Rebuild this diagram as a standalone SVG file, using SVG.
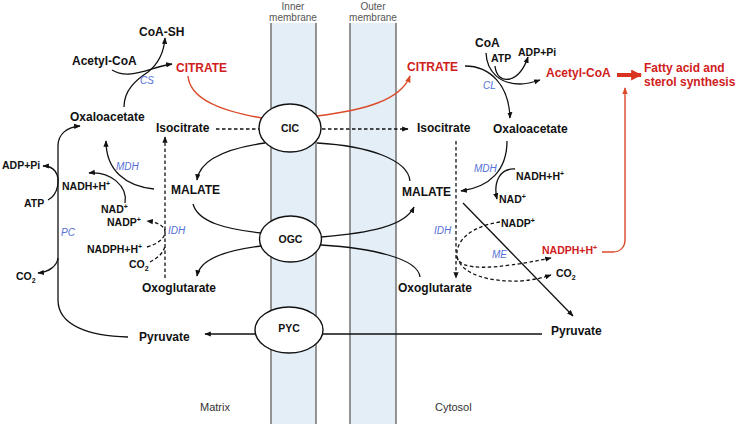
<svg xmlns="http://www.w3.org/2000/svg" width="739" height="424" viewBox="0 0 739 424">
<style>
text{font-family:"Liberation Sans",Arial,sans-serif}
.m{font-weight:bold;font-size:12px;fill:#111}
.c{font-weight:bold;font-size:10.5px;fill:#111}
.e{font-style:italic;font-size:10px;fill:#5470d8}
.r{fill:#d0201c}
.mb{font-size:10px;fill:#555;text-anchor:middle}
.lb{font-size:11px;fill:#333}
.n{font-weight:bold;font-size:10.5px;fill:#111;text-anchor:middle}
.l{fill:none;stroke:#111;stroke-width:1.3}
.d{stroke-dasharray:3.5,2.5}
.rl{fill:none;stroke:#dc4a2a;stroke-width:1.4}
.ov{fill:#fff;stroke:#111;stroke-width:1.4}
.mem{fill:#e3eef7;stroke:none}
.ml{stroke:#7a7a7a;stroke-width:1.6}
</style>
<defs>
<marker id="a" viewBox="0 0 10 10" refX="9" refY="5" markerWidth="6.5" markerHeight="6.5" markerUnits="userSpaceOnUse" orient="auto"><path d="M0,1 L10,5 L0,9 z" fill="#111"/></marker>
<marker id="ar" viewBox="0 0 10 10" refX="9" refY="5" markerWidth="7" markerHeight="7" markerUnits="userSpaceOnUse" orient="auto"><path d="M0,1 L10,5 L0,9 z" fill="#dc4a2a"/></marker>
<marker id="at" viewBox="0 0 10 10" refX="9" refY="5" markerWidth="11" markerHeight="11" markerUnits="userSpaceOnUse" orient="auto"><path d="M0,0 L10,5 L0,10 z" fill="#d9321e"/></marker>
</defs>

<g id="membranes">
<rect class="mem" x="271" y="23" width="45" height="401"/>
<line class="ml" x1="271" y1="23" x2="271" y2="424"/>
<line class="ml" x1="316" y1="23" x2="316" y2="424"/>
<rect class="mem" x="350" y="23" width="46" height="401"/>
<line class="ml" x1="350" y1="23" x2="350" y2="424"/>
<line class="ml" x1="396" y1="23" x2="396" y2="424"/>
<text class="mb" x="293" y="10">Inner</text>
<text class="mb" x="293" y="21">membrane</text>
<text class="mb" x="373" y="10">Outer</text>
<text class="mb" x="373" y="21">membrane</text>
<text class="lb" x="200" y="411">Matrix</text>
<text class="lb" x="435" y="411">Cytosol</text>
</g>

<g id="connectors">
<!-- left CS -->
<path class="l" d="M124,107 C124,90 136,80 148,72 C158,64 164,52 165,38" marker-end="url(#a)"/>
<path class="l" d="M112,70 C130,81 150,67 172,64" marker-end="url(#a)"/>
<!-- citrate transport -->
<path class="rl" d="M188,76 C190,99 220,111 262,118"/>
<path class="rl" d="M317,116 C365,110 401,100 410,76" marker-end="url(#ar)"/>
<!-- isocitrate dashed -->
<path class="l d" d="M216,129 L259,129"/>
<path class="l d" d="M322,129 L408,129" marker-end="url(#a)"/>
<!-- CIC malate -->
<path class="l" d="M265,143 C230,148 200,158 197,180" marker-end="url(#a)"/>
<path class="l" d="M317,143 C370,146 408,160 410,181"/>
<!-- OGC -->
<path class="l" d="M193,204 C198,222 225,229 261,233"/>
<path class="l" d="M321,237 C370,233 405,226 414,207" marker-end="url(#a)"/>
<path class="l" d="M261,246 C228,250 200,258 197,276" marker-end="url(#a)"/>
<path class="l" d="M321,245 C370,248 418,258 420,277"/>
<!-- PYC -->
<path class="l" d="M542,334 L205,334" marker-end="url(#a)"/>
<!-- PC loop -->
<path class="l" d="M128,337 C90,336 58,326 58,300 L58,146 C58,134 67,127 80,126" marker-end="url(#a)"/>
<path class="l" d="M48,200 C58,195 61,179 55,171 C52,167 48,166 43,166" marker-end="url(#a)"/>
<path class="l" d="M58,258 C57,266 49,272 38,273" marker-end="url(#a)"/>
<!-- left MDH -->
<path class="l" d="M154,189 C125,186 106,170 106,141" marker-end="url(#a)"/>
<path class="l" d="M125,203 C128,186 110,171 89,173" marker-end="url(#a)"/>
<!-- left IDH -->
<path class="l d" d="M165,278 L165,137" marker-end="url(#a)"/>
<path class="l d" d="M147,247 C158,244 165,238 165,232 C165,226 157,222 147,221" marker-end="url(#a)"/>
<path class="l d" d="M150,262 C158,258 165,252 165,244"/>
<!-- right CL -->
<path class="l" d="M465,66 C490,66 509,85 510,118" marker-end="url(#a)"/>
<path class="l" d="M486,53 C487,72 500,84 520,84 C528,84 534,82 540,80" marker-end="url(#a)"/>
<path class="l" d="M495,66 C496,76 502,81 510,79 C520,76 525,66 528,57" marker-end="url(#a)"/>
<!-- red to fatty acid -->
<path d="M617,75 L641,75" stroke="#d9321e" stroke-width="4" fill="none" marker-end="url(#at)"/>
<path class="rl" d="M602,252 L613,252 C620,252 625,247 625,240 L625,88" marker-end="url(#ar)"/>
<!-- right MDH -->
<path class="l" d="M507,141 C507,170 490,187 461,191" marker-end="url(#a)"/>
<path class="l" d="M515,169 C500,168 493,182 497,199" marker-end="url(#a)"/>
<!-- right IDH -->
<path class="l d" d="M456,141 L456,278" marker-end="url(#a)"/>
<!-- ME -->
<path class="l" d="M463,203 L573,316" marker-end="url(#a)"/>
<path class="l d" d="M500,222 C472,226 455,240 457,257 C460,271 492,270 551,258" marker-end="url(#a)"/>
<path class="l d" d="M457,257 C462,275 490,282 520,281 C535,280 545,277 551,275" marker-end="url(#a)"/>
</g>

<g id="CIC"><ellipse class="ov" cx="290" cy="128" rx="31" ry="24"/><text class="n" x="290" y="132">CIC</text></g>
<g id="OGC"><ellipse class="ov" cx="290.5" cy="239" rx="31" ry="23"/><text class="n" x="290.5" y="243">OGC</text></g>
<g id="PYC"><ellipse class="ov" cx="289" cy="330" rx="34" ry="23"/><text class="n" x="289" y="332">PYC</text></g>

<g id="matrix-nodes">
<g id="m-coash"><text class="m" x="139" y="36">CoA-SH</text></g>
<g id="m-acetylcoa"><text class="m" x="72" y="65">Acetyl-CoA</text></g>
<g id="m-citrate"><text class="m r" x="176" y="72">CITRATE</text></g>
<g id="m-cs"><text class="e" x="140" y="84">CS</text></g>
<g id="m-oaa"><text class="m" x="70" y="121">Oxaloacetate</text></g>
<g id="m-isocitrate"><text class="m" x="156" y="132">Isocitrate</text></g>
<g id="m-adp"><text class="c" x="2" y="169">ADP+Pi</text></g>
<g id="m-nadh"><text class="c" x="62" y="190">NADH+H<tspan font-size="7" dy="-4">+</tspan></text></g>
<g id="m-mdh"><text class="e" x="116" y="169.5">MDH</text></g>
<g id="m-malate"><text class="m" x="171" y="194">MALATE</text></g>
<g id="m-atp"><text class="c" x="24" y="207">ATP</text></g>
<g id="m-nad"><text class="c" x="101" y="213">NAD<tspan font-size="7" dy="-4">+</tspan></text></g>
<g id="m-nadp"><text class="c" x="107" y="226">NADP<tspan font-size="7" dy="-4">+</tspan></text></g>
<g id="m-pc"><text class="e" x="61" y="236">PC</text></g>
<g id="m-idh"><text class="e" x="168" y="234">IDH</text></g>
<g id="m-nadph"><text class="c" x="87" y="253">NADPH+H<tspan font-size="7" dy="-4">+</tspan></text></g>
<g id="m-co2a"><text class="c" x="129" y="268">CO<tspan font-size="7" dy="3">2</tspan></text></g>
<g id="m-co2b"><text class="c" x="16" y="280">CO<tspan font-size="7" dy="3">2</tspan></text></g>
<g id="m-oxo"><text class="m" x="142" y="292">Oxoglutarate</text></g>
<g id="m-pyruvate"><text class="m" x="139" y="341">Pyruvate</text></g>
</g>

<g id="cytosol-nodes">
<g id="c-coa"><text class="m" x="475" y="47">CoA</text></g>
<g id="c-adp"><text class="c" x="518" y="55.5">ADP+Pi</text></g>
<g id="c-atp"><text class="c" x="491" y="62">ATP</text></g>
<g id="c-citrate"><text class="m r" x="407" y="71">CITRATE</text></g>
<g id="c-acetylcoa"><text class="m r" x="546" y="77">Acetyl-CoA</text></g>
<g id="c-fatty"><text class="m r" x="644" y="72">Fatty acid and</text><text class="m r" x="644" y="86">sterol synthesis</text></g>
<g id="c-cl"><text class="e" x="483" y="89">CL</text></g>
<g id="c-isocitrate"><text class="m" x="417" y="132">Isocitrate</text></g>
<g id="c-oaa"><text class="m" x="493" y="133">Oxaloacetate</text></g>
<g id="c-mdh"><text class="e" x="474" y="172">MDH</text></g>
<g id="c-nadh"><text class="c" x="516" y="180">NADH+H<tspan font-size="7" dy="-4">+</tspan></text></g>
<g id="c-malate"><text class="m" x="402" y="196">MALATE</text></g>
<g id="c-nad"><text class="c" x="499" y="203">NAD<tspan font-size="7" dy="-4">+</tspan></text></g>
<g id="c-nadp"><text class="c" x="501" y="227">NADP<tspan font-size="7" dy="-4">+</tspan></text></g>
<g id="c-idh"><text class="e" x="434" y="234">IDH</text></g>
<g id="c-me"><text class="e" x="492" y="258">ME</text></g>
<g id="c-nadph"><text class="c r" x="542" y="254">NADPH+H<tspan font-size="7" dy="-4">+</tspan></text></g>
<g id="c-co2"><text class="c" x="556" y="277">CO<tspan font-size="7" dy="3">2</tspan></text></g>
<g id="c-oxo"><text class="m" x="398" y="292">Oxoglutarate</text></g>
<g id="c-pyruvate"><text class="m" x="551" y="335">Pyruvate</text></g>
</g>
</svg>
